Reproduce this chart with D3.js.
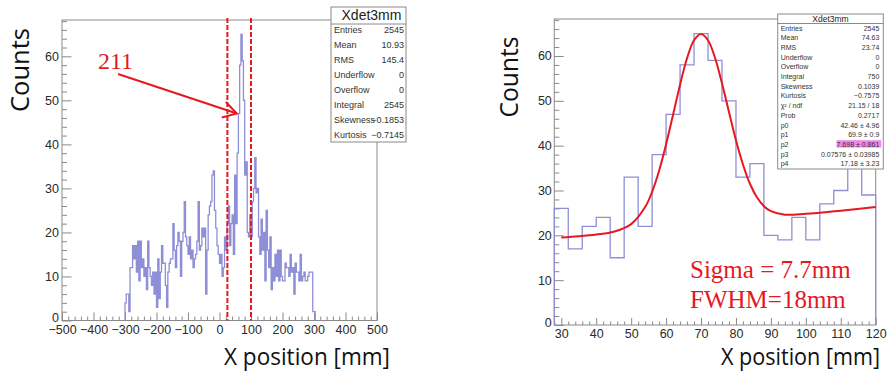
<!DOCTYPE html>
<html>
<head>
<meta charset="utf-8">
<script src="https://cdn.jsdelivr.net/npm/d3@7"></script>
<style>
  html, body { margin: 0; padding: 0; background: #fff; }
  svg { display: block; }
</style>
</head>
<body>
<script>
// ---- data ----
// full range histogram, 4 mm bins starting at -300 mm
const leftBinStart = -300;
const binWidth = 4;
const leftCounts = [
  4, 6, 6, 2, 12, 12, 17, 14, 17, 11, 18, 9, 18, 12, 14, 10, 12, 7, 18, 12,
  10, 8, 11, 6, 11, 3, 14, 5, 11, 17, 13, 13, 8, 3, 11, 13, 14, 14, 22, 16,
  12, 17, 20, 18, 10, 18, 20, 27, 19, 17, 15, 19, 14, 16, 12, 14, 15, 18, 27, 16,
  17, 21, 19, 21, 6, 16, 24, 26, 27, 33, 34, 25, 21, 17, 15, 13, 15, 10, 12, 19,
  16, 22, 26, 17, 22, 24, 15, 33, 22, 38, 47, 58, 65, 59, 50, 33, 36, 20, 19, 24,
  19, 27, 30, 37, 29, 30, 19, 15, 23, 16, 20, 9, 25, 16, 12, 19, 7, 12, 9, 15,
  10, 16, 9, 16, 10, 9, 9, 13, 12, 12, 10, 15, 11, 12, 6, 13, 11, 11, 9, 15,
  9, 10, 11, 9, 9, 10, 11, 11, 11, 2, 2
];
// zoomed histogram, 28..120 mm
const rightBinStart = 28;
const rightCounts = [26, 17, 22, 24, 15, 33, 22, 38, 47, 58, 65, 59, 50, 33, 36, 20, 19, 24, 19, 27, 30, 37, 29];
// fitted curve (gaus + pol1)
const fitX = [30, 35, 40, 45, 50, 54, 56, 58, 60, 62, 64, 66, 68, 70, 72, 74, 76, 78, 80, 82, 84, 86, 88, 90, 94, 100, 110, 120];
const fitY = [19.5, 19.8, 20.2, 20.8, 22.5, 26.3, 29.7, 34.4, 40.3, 46.9, 53.6, 59.5, 63.5, 64.9, 63.5, 59.6, 53.9, 47.5, 41.2, 35.8, 31.5, 28.5, 26.5, 25.4, 24.6, 24.8, 25.5, 26.3];
// selection window drawn on the left plot
const cutLines = [25, 100];

const leftTicks = [-500, -400, -300, -200, -100, 0, 100, 200, 300, 400, 500];
const rightTicks = [30, 40, 50, 60, 70, 80, 90, 100, 110, 120];
const yTicks = [0, 10, 20, 30, 40, 50, 60];

const statsTitle = "Xdet3mm";
const leftStatNames = ["Entries", "Mean", "RMS", "Underflow", "Overflow", "Integral", "Skewness", "Kurtosis"];
const leftStatValues = ["2545", "10.93", "145.4", "0", "0", "2545", "\u22120.1853", "\u22120.7145"];
const rightStatNames = ["Entries", "Mean", "RMS", "Underflow", "Overflow", "Integral", "Skewness", "Kurtosis", "\u03c7\u00b2 / ndf", "Prob", "p0", "p1", "p2", "p3", "p4"];
const rightStatValues = ["2545", "74.63", "23.74", "0", "0", "750", "0.1039", "\u22120.7575", "21.15 / 18", "0.2717", "42.46 \u00b1 4.96", "69.9 \u00b1 0.9", "7.698 \u00b1 0.861", "0.07576 \u00b1 0.03985", "17.18 \u00b1 3.23"];

// ---- layout ----
const width = 887, height = 373;
const histColor = "#8f8fd8";
const red = "#e5191f";
const frameColor = "#8a8a8a";
const tickFont = "'Liberation Sans', Arial, sans-serif";
const titleFont = "'Open Sans', sans-serif";

const svg = d3.select("body").append("svg")
  .attr("width", width)
  .attr("height", height)
  .attr("viewBox", [0, 0, width, height]);

const fmt = d => (d < 0 ? "\u2212" + Math.abs(d) : String(d));

function histPoints(start, counts) {
  const pts = [[start, 0]];
  counts.forEach((c, i) => pts.push([start + i * binWidth, c]));
  const end = start + counts.length * binWidth;
  pts.push([end, counts[counts.length - 1]]);
  pts.push([end, 0]);
  return pts;
}

function drawPanel(p) {
  const g = svg.append("g");
  const [x0, x1] = p.x.range();
  const [y0, y1] = p.y.range();

  // x axis, major + minor ticks pointing inward
  const xMinor = d3.range(p.x.domain()[0], p.x.domain()[1] + 1e-9, p.xMinorStep)
    .filter(v => Math.abs(v / p.xMajorStep - Math.round(v / p.xMajorStep)) > 1e-6);
  g.append("g").attr("transform", `translate(0,${y0})`)
    .call(d3.axisBottom(p.x).tickValues(xMinor).tickSize(-p.xMinorLen).tickFormat(""));
  g.append("g").attr("class", "xmaj").attr("transform", `translate(0,${y0})`)
    .call(d3.axisBottom(p.x).tickValues(p.xTicks).tickSize(-p.xMajorLen).tickPadding(p.xPad).tickFormat(fmt));

  const yMinor = d3.range(0, p.y.domain()[1], 2).filter(v => v % 10 !== 0);
  g.append("g").attr("transform", `translate(${x0},0)`)
    .call(d3.axisLeft(p.y).tickValues(yMinor).tickSize(-5).tickFormat(""));
  g.append("g").attr("class", "ymaj").attr("transform", `translate(${x0},0)`)
    .call(d3.axisLeft(p.y).tickValues(yTicks).tickSize(-9.5).tickPadding(p.yPad).tickFormat(fmt));

  g.selectAll(".domain").remove();
  g.selectAll(".tick line").attr("stroke", frameColor);
  g.selectAll(".tick text")
    .attr("font-family", tickFont)
    .attr("font-size", 12.5)
    .attr("fill", "#2a2a2a");
  // the "0" of the y axis sits a little above the corner, as in ROOT
  g.select(".ymaj").selectAll(".tick text").filter(d => d === 0).attr("dy", "0.1em");

  // frame
  g.append("rect")
    .attr("x", x0).attr("y", y1)
    .attr("width", x1 - x0).attr("height", y0 - y1)
    .attr("fill", "none").attr("stroke", frameColor).attr("stroke-width", 1);

  // histogram outline
  const line = d3.line().curve(d3.curveStepAfter)
    .x(d => p.x(d[0])).y(d => p.y(d[1]));
  g.append("path")
    .attr("d", line(histPoints(p.binStart, p.counts)))
    .attr("fill", "none")
    .attr("stroke", histColor)
    .attr("stroke-width", p.histWidth);

  // axis titles
  g.append("text")
    .attr("transform", `translate(${p.countsX},${p.countsY}) rotate(-90)`)
    .attr("text-anchor", "middle")
    .attr("font-family", titleFont)
    .attr("font-size", 26)
    .attr("textLength", p.countsLen)
    .attr("lengthAdjust", "spacingAndGlyphs")
    .attr("fill", "#111")
    .text("Counts");
  g.append("text")
    .attr("x", p.xTitleX).attr("y", p.xTitleY)
    .attr("font-family", titleFont)
    .attr("font-size", 23)
    .attr("textLength", p.xTitleLen)
    .attr("lengthAdjust", "spacingAndGlyphs")
    .attr("fill", "#111")
    .text("X position [mm]");
  return g;
}

function drawStats(b) {
  const g = svg.append("g");
  g.append("rect")
    .attr("x", b.x).attr("y", b.y).attr("width", b.w).attr("height", b.h)
    .attr("fill", "#fff").attr("stroke", frameColor).attr("stroke-width", 1);
  g.append("line")
    .attr("x1", b.x).attr("x2", b.x + b.w)
    .attr("y1", b.titleLine).attr("y2", b.titleLine)
    .attr("stroke", frameColor);
  g.append("text")
    .attr("x", b.x + b.w / 2 + b.titleShift).attr("y", b.titleBase)
    .attr("text-anchor", "middle")
    .attr("font-family", tickFont).attr("font-size", b.titleSize)
    .attr("fill", "#222")
    .text(statsTitle);
  b.names.forEach((n, i) => {
    const yy = b.row0 + i * b.rowStep;
    if (i === b.highlight) {
      g.append("rect")
        .attr("x", b.hlX).attr("y", yy - b.rowSize * 0.95)
        .attr("width", b.x + b.w - 2 - b.hlX).attr("height", b.rowSize * 1.05)
        .attr("fill", "#ee88ee");
    }
    g.append("text")
      .attr("x", b.x + 3).attr("y", yy)
      .attr("font-family", tickFont).attr("font-size", b.rowSize)
      .attr("fill", "#333")
      .text(n);
    g.append("text")
      .attr("x", b.x + b.w - b.valPad).attr("y", yy)
      .attr("text-anchor", "end")
      .attr("font-family", tickFont).attr("font-size", b.rowSize)
      .attr("fill", "#333")
      .text(b.values[i]);
  });
}

// ---- left: full range ----
const xL = d3.scaleLinear().domain([-500, 500]).range([62, 377]);
const yL = d3.scaleLinear().domain([0, 68.25]).range([320.5, 20]);
const left = drawPanel({
  x: xL, y: yL, xTicks: leftTicks, xMajorStep: 100, xMinorStep: 20,
  xMajorLen: 8, xMinorLen: 4, xPad: 5, yPad: 3,
  binStart: leftBinStart, counts: leftCounts, histWidth: 1.3,
  countsX: 29, countsY: 70, countsLen: 84,
  xTitleX: 224, xTitleY: 365, xTitleLen: 166
});

// cut window
left.selectAll(".cut").data(cutLines).join("line")
  .attr("class", "cut")
  .attr("x1", d => xL(d)).attr("x2", d => xL(d))
  .attr("y1", yL.range()[1] - 2).attr("y2", yL.range()[0])
  .attr("stroke", red).attr("stroke-width", 2)
  .attr("stroke-dasharray", "5,2");

// "211" annotation with arrow to the peak
const arrowFrom = [-322, 56];
const arrowTo = [55, 47];
const ax0 = xL(arrowFrom[0]), ay0 = yL(arrowFrom[1]);
const ax1 = xL(arrowTo[0]), ay1 = yL(arrowTo[1]);
left.append("line")
  .attr("x1", ax0).attr("y1", ay0).attr("x2", ax1).attr("y2", ay1)
  .attr("stroke", red).attr("stroke-width", 2);
left.append("path")
  .attr("d", `M${ax1 - 11},${ay1 - 11.5}L${ax1},${ay1}L${ax1 - 15},${ay1 + 4}`)
  .attr("fill", "none").attr("stroke", red).attr("stroke-width", 2);
left.append("text")
  .attr("x", xL(-386)).attr("y", yL(57.2))
  .attr("font-family", "'Liberation Serif', 'Times New Roman', serif")
  .attr("font-size", 24)
  .attr("fill", red)
  .text("211");

drawStats({
  x: 331, y: 7, w: 75, h: 135, titleLine: 24, titleBase: 20, titleSize: 14, titleShift: 3,
  names: leftStatNames, values: leftStatValues,
  row0: 33.3, rowStep: 14.9, rowSize: 9, valPad: 2, highlight: -1
});

// ---- right: zoom on the peak ----
const xR = d3.scaleLinear().domain([28, 120]).range([554.3, 875.7]);
const yR = d3.scaleLinear().domain([0, 68.25]).range([325, 19]);
const right = drawPanel({
  x: xR, y: yR, xTicks: rightTicks, xMajorStep: 10, xMinorStep: 2,
  xMajorLen: 7, xMinorLen: 3.5, xPad: 4.5, yPad: 2.5,
  binStart: rightBinStart, counts: rightCounts, histWidth: 1.3,
  countsX: 518, countsY: 77, countsLen: 81,
  xTitleX: 721, xTitleY: 365, xTitleLen: 159
});

const fitLine = d3.line().curve(d3.curveCatmullRom)
  .x((d, i) => xR(fitX[i])).y(d => yR(d));
right.append("path")
  .attr("d", fitLine(fitY))
  .attr("fill", "none")
  .attr("stroke", red)
  .attr("stroke-width", 2);

right.selectAll(".res").data(["Sigma = 7.7mm", "FWHM=18mm"]).join("text")
  .attr("class", "res")
  .attr("x", 690)
  .attr("y", (d, i) => 278 + i * 30)
  .attr("font-family", "'Liberation Serif', 'Times New Roman', serif")
  .attr("font-size", 25)
  .attr("fill", red)
  .text(d => d);

drawStats({
  x: 777.7, y: 14, w: 105.6, h: 155, titleLine: 23.5, titleBase: 21.5, titleSize: 8.5, titleShift: 0,
  names: rightStatNames, values: rightStatValues,
  row0: 30.8, rowStep: 9.67, rowSize: 7, valPad: 4, highlight: 12, hlX: 836.5
});
</script>
</body>
</html>
